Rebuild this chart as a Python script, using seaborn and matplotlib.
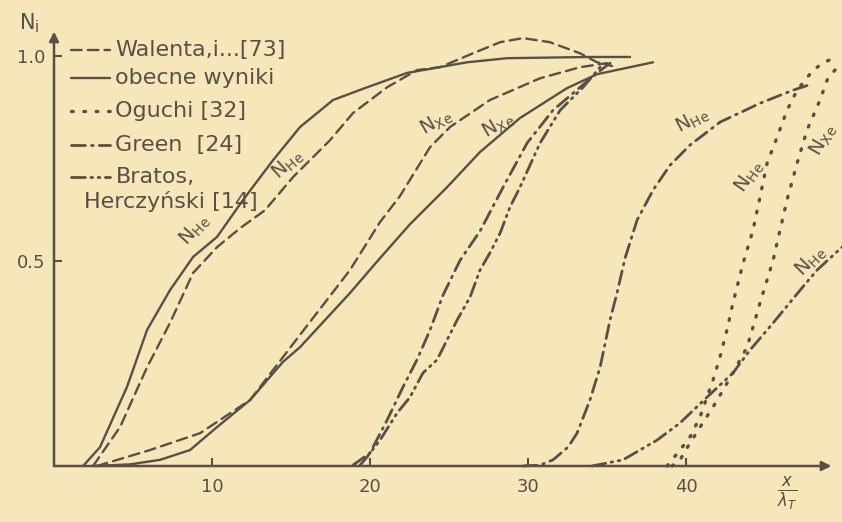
import numpy as np
import pandas as pd
import matplotlib
matplotlib.use("Agg")
import matplotlib.pyplot as plt
import seaborn as sns
from matplotlib.lines import Line2D

# values: x in units of lambda_T, y = N_i
obecne_he_x = [1.84, 2.91, 4.62, 5.89, 7.34, 8.80, 10.32, 11.96, 13.86, 15.57, 17.66, 19.81, 22.34, 26.14, 28.67, 33.92, 36.46]
obecne_he_y = [0.0, 0.046, 0.193, 0.332, 0.429, 0.510, 0.559, 0.649, 0.746, 0.827, 0.893, 0.924, 0.959, 0.985, 0.995, 0.998, 0.998]

obecne_xe_x = [2.47, 4.81, 6.71, 8.61, 10.32, 12.41, 14.49, 15.57, 18.73, 20.63, 22.53, 24.87, 26.96, 29.49, 32.47, 34.37, 37.91]
obecne_xe_y = [0.0, 0.004, 0.015, 0.039, 0.095, 0.161, 0.254, 0.290, 0.422, 0.507, 0.590, 0.680, 0.766, 0.849, 0.922, 0.956, 0.985]

walenta_he_x = [2.47, 4.18, 5.89, 7.34, 8.80, 10.32, 11.77, 13.35, 15.13, 17.47, 18.92, 21.08, 22.97, 24.43, 26.52, 28.23, 29.68, 31.39, 33.29, 34.37, 35.32]
walenta_he_y = [0.0, 0.095, 0.241, 0.349, 0.471, 0.534, 0.580, 0.624, 0.705, 0.795, 0.861, 0.924, 0.966, 0.973, 1.007, 1.034, 1.044, 1.034, 1.007, 0.985, 0.976]

walenta_xe_x = [2.72, 6.08, 9.24, 12.41, 15.57, 18.73, 20.63, 21.90, 23.80, 25.06, 27.59, 30.76, 33.29, 35.0]
walenta_xe_y = [0.0, 0.039, 0.080, 0.161, 0.320, 0.478, 0.595, 0.659, 0.778, 0.827, 0.893, 0.946, 0.973, 0.983]

green_xe_x = [18.92, 20.0, 21.08, 22.09, 22.97, 23.80, 24.62, 25.70, 26.96, 28.42, 29.94, 31.58, 33.29, 34.37, 35.19]
green_xe_y = [0.002, 0.032, 0.112, 0.193, 0.259, 0.332, 0.417, 0.502, 0.573, 0.680, 0.788, 0.868, 0.924, 0.959, 0.983]

bratos_xe_x = [19.37, 19.81, 20.63, 21.71, 22.53, 23.35, 24.24, 24.87, 25.51, 26.33, 26.96, 27.59, 28.23, 28.86, 29.49, 30.76, 32.03, 33.48, 34.56]
bratos_xe_y = [0.002, 0.022, 0.063, 0.129, 0.168, 0.227, 0.259, 0.307, 0.356, 0.412, 0.478, 0.520, 0.568, 0.632, 0.680, 0.788, 0.868, 0.924, 0.973]

green_he_x = [29.68, 30.76, 31.58, 32.53, 33.10, 33.92, 34.56, 35.19, 35.63, 36.14, 36.90, 37.91, 38.99, 40.25, 42.15, 44.68, 46.77, 47.72]
green_he_y = [0.0, 0.002, 0.015, 0.046, 0.080, 0.161, 0.241, 0.356, 0.422, 0.507, 0.600, 0.673, 0.734, 0.783, 0.839, 0.885, 0.917, 0.929]

bratos_he_x = [34.05, 36.01, 38.16, 39.62, 41.33, 42.97, 44.05, 45.51, 47.22, 48.29, 49.87]
bratos_he_y = [0.0, 0.015, 0.063, 0.105, 0.168, 0.227, 0.283, 0.349, 0.429, 0.478, 0.534]

oguchi_he_x = [38.80, 39.62, 40.25, 40.89, 41.71, 42.15, 42.59, 42.97, 43.61, 44.24, 44.68, 45.13, 45.76, 46.39, 47.03, 48.04, 48.67, 49.30]
oguchi_he_y = [0.0, 0.039, 0.071, 0.120, 0.210, 0.266, 0.332, 0.398, 0.495, 0.576, 0.656, 0.739, 0.802, 0.868, 0.917, 0.966, 0.983, 0.995]

oguchi_xe_x = [39.11, 39.62, 40.25, 40.89, 41.71, 42.34, 42.97, 43.86, 44.24, 44.68, 45.13, 45.51, 45.95, 46.39, 47.03, 47.66, 48.48, 48.92, 49.56]
oguchi_xe_y = [0.0, 0.015, 0.056, 0.095, 0.144, 0.185, 0.227, 0.290, 0.339, 0.398, 0.454, 0.502, 0.576, 0.649, 0.739, 0.820, 0.893, 0.941, 0.973]

x_ticks = [10, 20, 30, 40]
y_ticks = [0.5, 1.0]
y_tick_labels = ["0.5", "1.0"]

legend_labels = ["Walenta,i...[73]", "obecne wyniki", "Oguchi [32]", "Green  [24]", "Bratos,"]

INK = "#5a4f47"
PAPER = "#f6e7bb"

DASHED = (0, (4.5, 2.6))
SOLID = "-"
DOTTED = (0, (0.5, 3.2))
DASHDOT = (0, (5, 2.2, 0.6, 2.2))
DASHDOTDOT = (0, (5, 2, 0.6, 2, 0.6, 2))

sns.set_style("ticks")
plt.rcParams["font.family"] = ["DejaVu Sans"]
plt.rcParams["mathtext.fontset"] = "dejavusans"

fig = plt.figure(figsize=(8.42, 5.22), dpi=100, facecolor=PAPER)
ax = fig.add_axes([54 / 842, 56 / 522, 788 / 842, 466 / 522])
ax.set_facecolor(PAPER)


def draw_curve(xs, ys, style, lw=1.7):
    df = pd.DataFrame({"x": xs, "y": ys})
    sns.lineplot(data=df, x="x", y="y", ax=ax, color=INK, lw=lw,
                 linestyle=style, estimator=None, sort=False,
                 dash_capstyle="round", clip_on=False)


draw_curve(obecne_he_x, obecne_he_y, SOLID)
draw_curve(obecne_xe_x, obecne_xe_y, SOLID)
draw_curve(walenta_he_x, walenta_he_y, DASHED)
draw_curve(walenta_xe_x, walenta_xe_y, DASHED)
draw_curve(green_xe_x, green_xe_y, DASHDOT, lw=2.0)
draw_curve(bratos_xe_x, bratos_xe_y, DASHDOTDOT, lw=2.0)
draw_curve(green_he_x, green_he_y, DASHDOT, lw=2.0)
draw_curve(bratos_he_x, bratos_he_y, DASHDOTDOT, lw=2.0)
draw_curve(oguchi_he_x, oguchi_he_y, DOTTED, lw=2.4)
draw_curve(oguchi_xe_x, oguchi_xe_y, DOTTED, lw=2.4)

ax.set_xlim(0, 49.87)
ax.set_ylim(0, 1.137)
sns.despine(ax=ax, left=True, bottom=True)
ax.set_xlabel("")
ax.set_ylabel("")

# axes drawn as arrows, like the hand drawing
ax.annotate("", xy=(0, 1.06), xytext=(0, 0), xycoords="data",
            arrowprops=dict(arrowstyle="-|>", color=INK, lw=1.8,
                            mutation_scale=14, shrinkA=0, shrinkB=0),
            annotation_clip=False)
ax.annotate("", xy=(49.2, 0), xytext=(0, 0), xycoords="data",
            arrowprops=dict(arrowstyle="-|>", color=INK, lw=1.8,
                            mutation_scale=14, shrinkA=0, shrinkB=0),
            annotation_clip=False)

ax.set_xticks(x_ticks)
ax.set_xticklabels([str(t) for t in x_ticks])
ax.set_yticks(y_ticks)
ax.set_yticklabels(y_tick_labels)
ax.tick_params(axis="both", direction="in", length=6, width=1.5, color=INK,
               labelcolor=INK, labelsize=13)
ax.tick_params(axis="x", pad=9)
ax.tick_params(axis="y", pad=6)

ax.text(-0.9, 1.08, r"$\mathregular{N_i}$", color=INK, fontsize=15,
        ha="right", va="center")
ax.text(46.4, -0.065, r"$\frac{x}{\lambda_T}$", color=INK, fontsize=17,
        ha="center", va="center")

# curve labels
curve_labels = [
    (8.9, 0.575, 48, "He"),
    (14.8, 0.735, 42, "He"),
    (24.2, 0.838, 30, "Xe"),
    (28.1, 0.832, 30, "Xe"),
    (40.4, 0.842, 28, "He"),
    (44.0, 0.705, 55, "He"),
    (48.7, 0.795, 60, "Xe"),
    (47.9, 0.500, 45, "He"),
]
for lx, ly, rot, sub in curve_labels:
    ax.text(lx, ly, r"$\mathregular{N_{" + sub + "}}$", color=INK, fontsize=14,
            rotation=rot, rotation_mode="anchor", ha="center", va="center")

# hand-made legend in the upper left corner
styles = [DASHED, SOLID, DOTTED, DASHDOT, DASHDOTDOT]
widths = [1.7, 1.7, 2.4, 2.0, 2.0]
rows = [0.893, 0.833, 0.762, 0.689, 0.620]
for label, style, w, yr in zip(legend_labels, styles, widths, rows):
    ax.add_line(Line2D([0.021, 0.071], [yr, yr], transform=ax.transAxes,
                       color=INK, lw=w, linestyle=style,
                       dash_capstyle="round", clip_on=False))
    ax.text(0.078, yr, label, transform=ax.transAxes, color=INK,
            fontsize=16, ha="left", va="center")
ax.text(0.038, 0.568, "Herczyński [14]", transform=ax.transAxes, color=INK,
        fontsize=16, ha="left", va="center")

fig.savefig("out.png", dpi=100, facecolor=PAPER)
